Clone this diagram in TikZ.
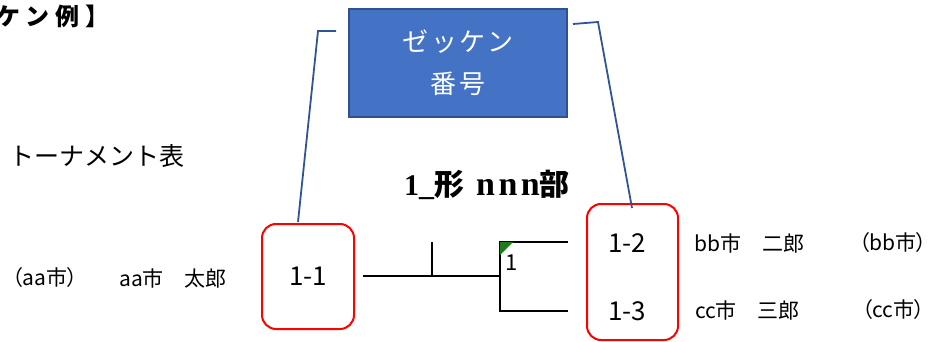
\documentclass[tikz,border=0pt]{standalone}
\usepackage{fontspec}
\newfontfamily\jp{Noto Sans CJK JP}
\newfontfamily\jpp{Noto Sans CJK JP}[RawFeature=+palt]
\newfontfamily\jpsp{Noto Sans CJK JP}[LetterSpace=10]
\newfontfamily\jpti{Noto Sans CJK JP}[LetterSpace=25]
\newfontfamily\serifb{Liberation Serif}
\newfontfamily\serifsp{Liberation Serif}[LetterSpace=10]
\definecolor{boxblue}{HTML}{4472C4}
\definecolor{boxedge}{HTML}{2F528F}
\definecolor{linkblue}{HTML}{2F5597}
\definecolor{markgreen}{HTML}{1E7B1E}
\tikzset{
  label/.style={inner sep=0pt, font=\jp\fontsize{21}{24}\selectfont},
  plabel/.style={inner sep=0pt, font=\jpp\fontsize{21}{24}\selectfont},
  redbox/.style={draw=red, line width=2pt, rounded corners=14pt},
  link/.style={draw=linkblue, line width=1.8pt},
  bracket/.style={draw=black, line width=1.5pt},
  seed/.style={inner sep=0pt, font=\jp\fontsize{26}{30}\selectfont}
}
\begin{document}
\begin{tikzpicture}[x=1pt,y=-1pt]
\useasboundingbox (0,0) rectangle (933,342);
\clip (0,0) rectangle (933,342);
% title (cut at left, as in the reference)
\node[anchor=east, inner sep=0pt, font=\jpti\bfseries\fontsize{24}{28}\selectfont] (title) at (110,16) {【ゼッケン例】};
% blue box
\node[draw=boxedge, fill=boxblue, line width=1.5pt, minimum width=218pt, minimum height=108pt,
      text=white, align=center, font=\jpsp\fontsize{26}{42}\selectfont] (zek) at (458,63) {ゼッケン\\番号};
% section title
\node[inner sep=0pt, font=\jp\fontsize{25}{30}\selectfont] (tt) at (97,156) {トーナメント表};
\node[anchor=west, inner sep=0pt, font=\fontsize{30}{34}\selectfont] (cls) at (404,185)
  {\serifb\bfseries 1\_\jp\bfseries 形\hspace{12pt}{\serifsp\bfseries\fontsize{34}{36}\selectfont nnn}\jp\bfseries 部};
% red boxes
\node[redbox, minimum width=92pt, minimum height=105pt] (r1) at (308,276.5) {};
\node[seed] (s11) at (r1.center) {1-1};
\node[redbox, minimum width=91pt, minimum height=136pt] (r2) at (632.5,272) {};
\node[seed] (s12) at (627,243) {1-2};
\node[seed] (s13) at (627,311) {1-3};
% blue links
\coordinate (la) at (336,31);
\coordinate (lb) at (318,31);
\coordinate (lc) at (298,222);
\coordinate (ra) at (573,24);
\coordinate (rb) at (598,22);
\coordinate (rc) at (632,208);
\draw[link] (la) -- (lb) -- (lc);
\draw[link] (ra) -- (rb) -- (rc);
% bracket
\coordinate (b0) at (363,276);
\coordinate (bj) at (500,276);
\coordinate (bt) at (500,242);
\coordinate (bb) at (500,311);
\coordinate (t2) at (568,242);
\coordinate (t3) at (568,311);
\coordinate (tk) at (432,242);
\coordinate (tkb) at (432,276);
\draw[bracket] (b0) -- (bj);
\draw[bracket] (tk) -- (tkb);
\draw[bracket] (t2) -- (bt) -- (bb) -- (t3);
\fill[markgreen] (bt) -- ++(13,0) -- ++(-13,13) -- cycle;
\node[inner sep=0pt, font=\jp\fontsize{22}{26}\selectfont] (m1) at (512,263) {1};
% names
\node[plabel] (c1) at (45,278) {（aa市）};
\node[label] (n1) at (173,278) {aa市　太郎};
\node[label] (n2) at (749.5,243) {bb市　二郎};
\node[plabel] (c2) at (893,243) {（bb市）};
\node[label] (n3) at (747.5,310) {cc市　三郎};
\node[plabel] (c3) at (893.5,310) {（cc市）};
\end{tikzpicture}
\end{document}
